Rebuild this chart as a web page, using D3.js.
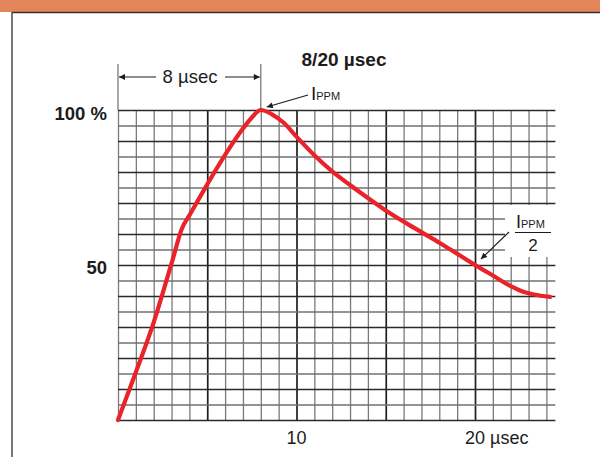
<!DOCTYPE html>
<html>
<head>
<meta charset="utf-8">
<script src="https://cdn.jsdelivr.net/npm/d3@7"></script>
<style>
  html, body { margin: 0; padding: 0; background: #fff; }
  svg { display: block; font-family: "Liberation Sans", Arial, sans-serif; }
</style>
</head>
<body>
<svg id="chart" width="600" height="457"></svg>
<script>
// ---- data ----
const timeUs     = [0, 1, 2, 3, 3.6, 4, 5, 6, 7, 7.5, 8, 8.6, 9.3, 10, 11, 12, 13, 14, 15, 16, 17, 18, 19, 20, 21, 22, 22.7, 23.3, 24.2];
const currentPct = [0, 15.4, 31.5, 50.5, 62, 66, 76, 85.5, 94, 97.6, 100, 98.7, 95.8, 91.4, 85.4, 80.2, 75.8, 71.6, 67.6, 64, 60.6, 57.2, 53.6, 50, 46.6, 43.2, 41.4, 40.5, 39.7];
const xGridValues = d3.range(0, 25, 1);
const yGridValues = d3.range(0, 101, 5);
const xTickValues = [10, 20];
const xTickText   = ["10", "20 µsec"];
const yTickValues = [100, 50];
const yTickText   = ["100 %", "50"];
const title = "8/20 µsec";
const riseLabel = "8 µsec";
const riseTime = 8;
const halfValue = 50;
const halfTime = 20;

// ---- layout ----
const svg = d3.select("#chart");
const x = d3.scaleLinear().domain([0, 20]).range([118, 475]);
const y = d3.scaleLinear().domain([0, 100]).range([420, 110]);
const xMax = 24.5;
const ink = "#1c1c1c";

// header + frame
svg.append("rect").attr("x", 0).attr("y", 0).attr("width", 600).attr("height", 12).attr("fill", "#E4845A");
svg.append("line").attr("x1", 12).attr("x2", 600).attr("y1", 12.5).attr("y2", 12.5).attr("stroke", "#333").attr("stroke-width", 1.6);
svg.append("line").attr("x1", 12).attr("x2", 12).attr("y1", 12).attr("y2", 457).attr("stroke", "#555").attr("stroke-width", 1.6);

// defs: arrowhead
const defs = svg.append("defs");
defs.append("marker").attr("id", "arr").attr("viewBox", "0 0 10 10")
  .attr("refX", 10).attr("refY", 5).attr("markerWidth", 9).attr("markerHeight", 6)
  .attr("markerUnits", "userSpaceOnUse").attr("orient", "auto")
  .append("path").attr("d", "M0,0 L10,5 L0,10 Z").attr("fill", ink);

// grid via axes
const gridX = svg.append("g").attr("transform", `translate(0,${y(0)})`)
  .call(d3.axisBottom(x).tickValues(xGridValues).tickSize(-(y(0) - y(100))).tickFormat(""));
gridX.select(".domain").remove();
gridX.selectAll(".tick line")
  .attr("stroke", d => d % 5 === 0 && d > 0 ? "#1e1e1e" : "#7a7a7a")
  .attr("stroke-width", d => d % 5 === 0 && d > 0 ? 1.7 : 1.3);

const gridY = svg.append("g").attr("transform", `translate(${x(0)},0)`)
  .call(d3.axisRight(y).tickValues(yGridValues).tickSize(x(xMax) - x(0)).tickFormat(""));
gridY.select(".domain").remove();
gridY.selectAll(".tick line")
  .attr("stroke", d => d % 10 === 0 ? "#2a2a2a" : "#707070")
  .attr("stroke-width", 1.3);

// extended verticals at 0 and rise time
[0, riseTime].forEach(t => {
  svg.append("line").attr("x1", x(t)).attr("x2", x(t)).attr("y1", 64).attr("y2", y(100))
    .attr("stroke", "#7a7a7a").attr("stroke-width", 1.3);
});

// white box behind the Ippm/2 label
svg.append("rect").attr("x", 505).attr("y", 205).attr("width", 56).attr("height", 52).attr("fill", "#fff");

// curve
const pts = timeUs.map((t, i) => [t, currentPct[i]]);
svg.append("path").datum(pts)
  .attr("d", d3.line().x(d => x(d[0])).y(d => y(d[1])).curve(d3.curveMonotoneX))
  .attr("fill", "none").attr("stroke", "#EA2229").attr("stroke-width", 4.2)
  .attr("stroke-linecap", "round").attr("stroke-linejoin", "round");

// axis labels
svg.selectAll(".ylab").data(yTickValues).join("text").attr("class", "ylab")
  .attr("x", 107).attr("y", (d, i) => y(d) + (i === 0 ? 10 : 9))
  .attr("text-anchor", "end").attr("font-size", 18.5).attr("font-weight", "bold").attr("fill", ink)
  .text((d, i) => yTickText[i]);

svg.selectAll(".xlab").data(xTickValues).join("text").attr("class", "xlab")
  .attr("x", d => x(d) - 10).attr("y", 444)
  .attr("text-anchor", "start").attr("font-size", 18).attr("fill", ink)
  .text((d, i) => xTickText[i]);

// title
svg.append("text").attr("x", 344).attr("y", 66).attr("text-anchor", "middle")
  .attr("font-size", 19).attr("font-weight", "bold").attr("fill", ink).text(title);

// rise-time dimension
svg.append("line").attr("x1", 156).attr("x2", x(0) + 1).attr("y1", 77).attr("y2", 77)
  .attr("stroke", ink).attr("stroke-width", 1.1).attr("marker-end", "url(#arr)");
svg.append("line").attr("x1", 225).attr("x2", x(riseTime) - 1).attr("y1", 77).attr("y2", 77)
  .attr("stroke", ink).attr("stroke-width", 1.1).attr("marker-end", "url(#arr)");
svg.append("text").attr("x", 190).attr("y", 83).attr("text-anchor", "middle")
  .attr("font-size", 18.5).attr("fill", ink).text(riseLabel);

// Ippm peak label
const peak = svg.append("text").attr("x", 311).attr("y", 100).attr("fill", ink);
peak.append("tspan").attr("font-size", 19).text("I");
peak.append("tspan").attr("font-size", 11).text("PPM");
svg.append("line").attr("x1", 308).attr("y1", 95).attr("x2", x(riseTime) + 6).attr("y2", y(100) - 3)
  .attr("stroke", ink).attr("stroke-width", 1.1).attr("marker-end", "url(#arr)");

// Ippm / 2 label
const half = svg.append("text").attr("x", 516).attr("y", 228).attr("fill", ink);
half.append("tspan").attr("font-size", 18).text("I");
half.append("tspan").attr("font-size", 11).text("PPM");
svg.append("line").attr("x1", 515).attr("x2", 551).attr("y1", 232.5).attr("y2", 232.5)
  .attr("stroke", ink).attr("stroke-width", 1.2);
svg.append("text").attr("x", 533).attr("y", 251).attr("text-anchor", "middle")
  .attr("font-size", 17).attr("fill", ink).text("2");
svg.append("line").attr("x1", 509).attr("y1", 232).attr("x2", x(halfTime) + 6).attr("y2", y(halfValue) - 6)
  .attr("stroke", ink).attr("stroke-width", 1.1).attr("marker-end", "url(#arr)");
</script>
</body>
</html>
